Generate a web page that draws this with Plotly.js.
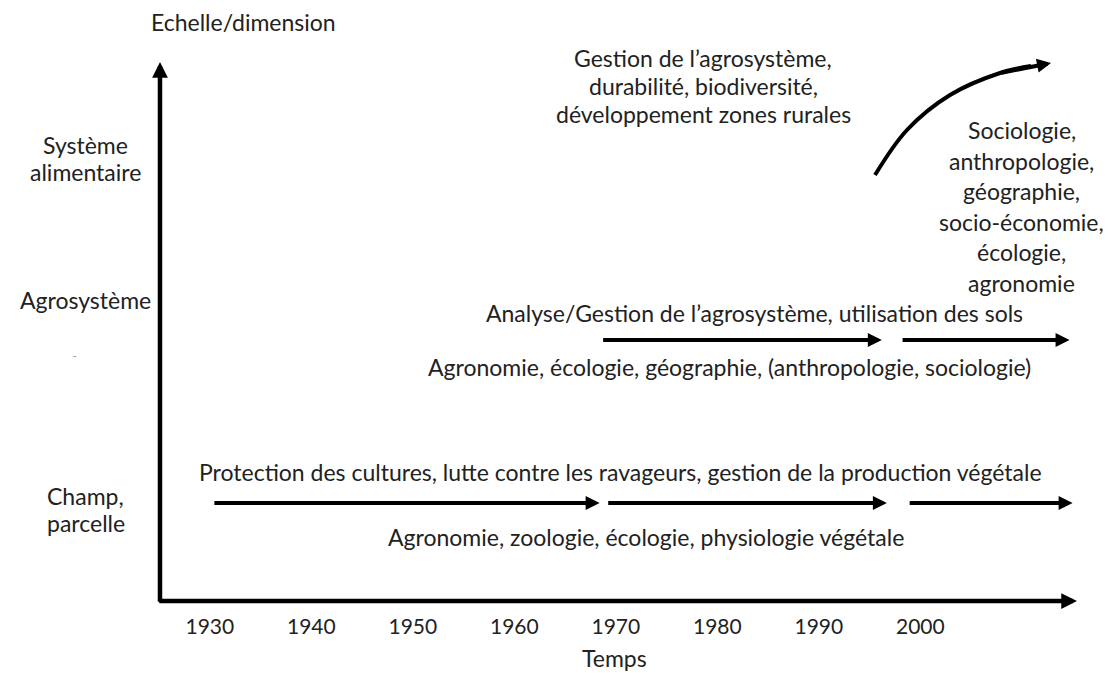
<!DOCTYPE html>
<html><head><meta charset="utf-8">
<script src="https://cdn.plot.ly/plotly-3.0.1.min.js"></script>
<style>html,body{margin:0;padding:0;background:#fff}#chart{width:1118px;height:673px}</style>
</head><body><div id="chart"></div>
<script>
// ---- data ----
const tickYears = [1930, 1940, 1950, 1960, 1970, 1980, 1990, 2000];
const tickLabels = ['1930', '1940', '1950', '1960', '1970', '1980', '1990', '2000'];
const levelSystem = ['Système', 'alimentaire'];
const levelAgro = ['Agrosystème'];
const levelChamp = ['Champ,', 'parcelle'];

// field / plot level arrows (years)
const champStarts = [1930.3, 1969.1, 1998.8];
const champEnds   = [1968.4, 1996.7, 2015.0];
const champLevel  = 98;
// agrosystem level arrows
const agroStarts = [1968.6, 1998.1];
const agroEnds   = [1996.2, 2014.7];
const agroLevel  = 261;
// curved arrow towards food system level
const curveYears  = [1995.53, 1998.68, 2002.92, 2007.85, 2010.9];
const curveLevels = [426, 471, 506, 528, 535];
const curveTipYear = 2012.87, curveTipLevel = 538;
// axes extent
const axisOriginYear = 1925.09;
const axisEndYear = 2015.43;
const axisTopLevel = 539;

const champTop = 'Protection des cultures, lutte contre les ravageurs, gestion de la production végétale';
const champBottom = 'Agronomie, zoologie, écologie, physiologie végétale';
const agroTop = 'Analyse/Gestion de l’agrosystème, utilisation des sols';
const agroBottom = 'Agronomie, écologie, géographie, (anthropologie, sociologie)';
const systemTop = ['Gestion de l’agrosystème,', 'durabilité, biodiversité,', 'développement zones rurales'];
const systemDisciplines = ['Sociologie,', 'anthropologie,', 'géographie,', 'socio-économie,', 'écologie,', 'agronomie'];

// ---- build ----
const FONT = 'Lato, "Open Sans", sans-serif';
const TXT = '#222';
const FS = 23;
const ann = [];

function arrow(x0, y0, x1, y1, w) {
  ann.push({x: x1, y: y1, ax: x0, ay: y0, xref: 'x', yref: 'y', axref: 'x', ayref: 'y',
    text: '', showarrow: true, arrowhead: 2, arrowsize: 0.7, arrowwidth: w || 4,
    arrowcolor: '#000', standoff: 0, startstandoff: 0});
}
function label(x, y, text, opts) {
  ann.push(Object.assign({x: x, y: y, xref: 'x', yref: 'y', text: text, showarrow: false,
    xanchor: 'center', yanchor: 'middle', align: 'center',
    font: {family: FONT, size: FS, color: TXT}}, opts || {}));
}
function lines(x, yTop, arr, step) {
  arr.forEach((t, i) => label(x, yTop - i * step, t));
}

// axes
arrow(axisOriginYear, -2.2, axisOriginYear, axisTopLevel, 4.5);
arrow(axisOriginYear - 0.22, 0, axisEndYear, 0, 4.5);

champStarts.forEach((s, i) => arrow(s, champLevel, champEnds[i], champLevel, 4));
agroStarts.forEach((s, i) => arrow(s, agroLevel, agroEnds[i], agroLevel, 4));
arrow(curveYears[curveYears.length - 2], curveLevels[curveLevels.length - 2], curveTipYear, curveTipLevel, 4);

// texts
label(1933.3, 579, 'Echelle/dimension');
lines(1917.8, 456, levelSystem, 27);
lines(1917.8, 301, levelAgro, 27);
label(1916.7, 246, '-', {font: {family: FONT, size: 14, color: '#aaa'}});
lines(1917.8, 105, levelChamp, 27);
label(1969.9, -57 / 601, 'Temps', {yref: 'paper'});
label(1970.5, 129, champTop);
label(1973.0, 64, champBottom);
label(1983.7, 288, agroTop);
label(1981.2, 234, agroBottom);
lines(1978.6, 543, systemTop, 28);
lines(2010.0, 471, systemDisciplines, 30.6);

const traces = [{
  x: curveYears, y: curveLevels, type: 'scatter', mode: 'lines',
  line: {color: '#000', width: 4, shape: 'spline', smoothing: 1},
  hoverinfo: 'skip', showlegend: false, cliponaxis: false
}];

const layout = {
  width: 1118, height: 673,
  margin: {l: 0, r: 0, t: 0, b: 72, pad: 0},
  paper_bgcolor: '#fff', plot_bgcolor: '#fff',
  showlegend: false,
  xaxis: {range: [1909.33, 2019.47], showgrid: false, zeroline: false, showline: false,
    ticks: '', tickvals: tickYears, ticktext: tickLabels, ticklabelstandoff: 11,
    tickfont: {family: FONT, size: 21, color: TXT}, fixedrange: true},
  yaxis: {range: [0, 601], showgrid: false, zeroline: false, showline: false,
    showticklabels: false, ticks: '', fixedrange: true},
  annotations: ann
};

Plotly.newPlot('chart', traces, layout, {displayModeBar: false, staticPlot: true});
</script>
</body></html>
